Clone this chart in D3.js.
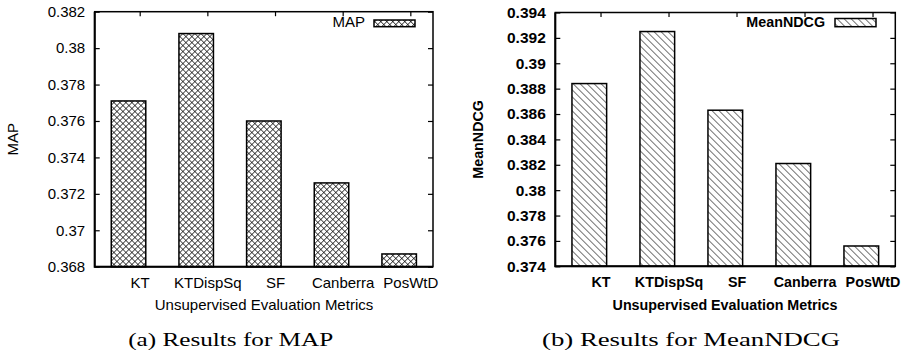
<!DOCTYPE html>
<html>
<head>
<meta charset="utf-8">
<script src="https://cdn.jsdelivr.net/npm/d3@7"></script>
<style>
  html, body { margin: 0; padding: 0; background: #fff; }
  svg { display: block; }
  .sans { font-family: "Liberation Sans", Arial, Helvetica, sans-serif; }
  .serif { font-family: "Liberation Serif", "Times New Roman", serif; }
</style>
</head>
<body>
<svg id="chart" width="902" height="352"></svg>
<script>
// Unsupervised evaluation metrics compared on two retrieval measures
const categories = ["KT", "KTDispSq", "SF", "Canberra", "PosWtD"];
const mapValues  = [0.3771, 0.3808, 0.3760, 0.3726, 0.3687];
const ndcgValues = [0.3884, 0.3925, 0.3863, 0.3821, 0.3756];
const mapTicks  = [0.368, 0.370, 0.372, 0.374, 0.376, 0.378, 0.380, 0.382];
const ndcgTicks = [0.374, 0.376, 0.378, 0.380, 0.382, 0.384, 0.386, 0.388, 0.390, 0.392, 0.394];

const svg = d3.select("#chart");
const defs = svg.append("defs");

// Fill patterns: crosshatch and backslash hatching
const cross = defs.append("pattern")
  .attr("id", "crosshatch")
  .attr("patternUnits", "userSpaceOnUse")
  .attr("width", 4.24).attr("height", 4.24)
  .attr("patternTransform", "rotate(45)");
cross.append("rect").attr("width", 4.24).attr("height", 4.24).attr("fill", "#fff");
cross.append("line").attr("x1", 0).attr("y1", 0).attr("x2", 4.24).attr("y2", 0)
  .attr("stroke", "#000").attr("stroke-width", 1.3);
cross.append("line").attr("x1", 0).attr("y1", 0).attr("x2", 0).attr("y2", 4.24)
  .attr("stroke", "#000").attr("stroke-width", 1.3);

const hatch = defs.append("pattern")
  .attr("id", "hatch")
  .attr("patternUnits", "userSpaceOnUse")
  .attr("width", 4.95).attr("height", 4.95)
  .attr("patternTransform", "rotate(45)");
hatch.append("rect").attr("width", 4.95).attr("height", 4.95).attr("fill", "#fff");
hatch.append("line").attr("x1", 0).attr("y1", 0).attr("x2", 4.95).attr("y2", 0)
  .attr("stroke", "#000").attr("stroke-width", 1.1);

const fmt = v => String(+v.toFixed(3));

// Stretch a text selection horizontally to a target width
function fitWidth(sel, width) {
  sel.attr("textLength", width).attr("lengthAdjust", "spacingAndGlyphs");
}

const panels = [
  {
    values: mapValues, ticks: mapTicks, domain: [0.368, 0.382],
    name: "MAP", fill: "url(#crosshatch)", weight: "normal", fs: 15, fsText: 15,
    left: 94.7, right: 433, top: 11.7, bottom: 266.7,
    yTitleX: 18, legendTextX: 365, legendY: 27, swatch: [374, 20, 41, 6.7],
    xTitleX: 264, captionX: 230.7, caption: "(a) Results for MAP", captionW: 205
  },
  {
    values: ndcgValues, ticks: ndcgTicks, domain: [0.374, 0.394],
    name: "MeanNDCG", fill: "url(#hatch)", weight: "bold", fs: 15.5, fsText: 14.3,
    left: 555.3, right: 895.3, top: 12.5, bottom: 266.3,
    yTitleX: 482.5, legendTextX: 825, legendY: 26.7, swatch: [835, 18.5, 41, 8.2],
    xTitleX: 725, captionX: 691, caption: "(b) Results for MeanNDCG", captionW: 298
  }
];

panels.forEach(p => {
  const g = svg.append("g");
  const x = d3.scaleLinear().domain([-0.5, categories.length - 0.5]).range([p.left, p.right]);
  const y = d3.scaleLinear().domain(p.domain).range([p.bottom, p.top]);
  const barW = 0.51;      // bar width in category units
  const tickShift = 0.165; // category labels sit right of the bar centres

  // Bars
  g.selectAll("rect.bar").data(p.values).join("rect")
    .attr("class", "bar")
    .attr("x", (d, i) => x(i - barW / 2))
    .attr("width", (d, i) => x(i + barW / 2) - x(i - barW / 2))
    .attr("y", d => y(d))
    .attr("height", d => y(p.domain[0]) - y(d))
    .attr("fill", p.fill)
    .attr("stroke", "#000")
    .attr("stroke-width", 1.5);

  // Left axis with inward ticks
  const yAxis = g.append("g").attr("transform", `translate(${p.left},0)`)
    .call(d3.axisLeft(y).tickValues(p.ticks).tickFormat(fmt).tickSize(-5).tickPadding(9.5));
  yAxis.select(".domain").remove();
  yAxis.selectAll("line").attr("stroke", "#000").attr("stroke-width", 1.2);
  yAxis.selectAll("text").attr("class", "sans").attr("font-size", p.fs)
    .attr("font-weight", p.weight).attr("fill", "#000");

  // Mirrored ticks on the right border
  const yAxisR = g.append("g").attr("transform", `translate(${p.right},0)`)
    .call(d3.axisRight(y).tickValues(p.ticks).tickFormat("").tickSize(-5));
  yAxisR.select(".domain").remove();
  yAxisR.selectAll("line").attr("stroke", "#000").attr("stroke-width", 1.2);

  // Top border ticks at the category positions
  const tickPos = categories.map((c, i) => i + tickShift);
  const xTop = g.append("g").attr("transform", `translate(0,${p.top})`)
    .call(d3.axisTop(x).tickValues(tickPos).tickFormat("").tickSize(-4.5));
  xTop.select(".domain").remove();
  xTop.selectAll("line").attr("stroke", "#000").attr("stroke-width", 1.2);

  // Category labels along the bottom
  const xBottom = g.append("g").attr("transform", `translate(0,${p.bottom})`)
    .call(d3.axisBottom(x).tickValues(tickPos).tickFormat((d, i) => categories[i])
      .tickSize(0).tickPadding(10.2));
  xBottom.select(".domain").remove();
  xBottom.selectAll("text").attr("class", "sans").attr("font-size", p.fsText)
    .attr("font-weight", p.weight).attr("fill", "#000");

  // Plot frame
  g.append("rect")
    .attr("x", p.left).attr("y", p.top)
    .attr("width", p.right - p.left).attr("height", p.bottom - p.top)
    .attr("fill", "none").attr("stroke", "#000").attr("stroke-width", 1.5);
  g.append("path")
    .attr("d", `M${p.left},${p.top} V${p.bottom} H${p.right}`)
    .attr("fill", "none").attr("stroke", "#000").attr("stroke-width", 2);

  // Legend
  g.append("text").attr("class", "sans")
    .attr("x", p.legendTextX).attr("y", p.legendY)
    .attr("text-anchor", "end").attr("font-size", p.fsText)
    .attr("font-weight", p.weight).text(p.name);
  g.append("rect")
    .attr("x", p.swatch[0]).attr("y", p.swatch[1])
    .attr("width", p.swatch[2]).attr("height", p.swatch[3])
    .attr("fill", p.fill).attr("stroke", "#000").attr("stroke-width", 1.5);

  // Axis titles
  g.append("text").attr("class", "sans")
    .attr("transform", `translate(${p.yTitleX},${(p.top + p.bottom) / 2}) rotate(-90)`)
    .attr("text-anchor", "middle").attr("font-size", p.fsText)
    .attr("font-weight", p.weight).text(p.name);
  g.append("text").attr("class", "sans")
    .attr("x", p.xTitleX).attr("y", 309.5)
    .attr("text-anchor", "middle").attr("font-size", p.fsText)
    .attr("font-weight", p.weight).text("Unsupervised Evaluation Metrics");

  // Sub-figure caption
  g.append("text").attr("class", "serif")
    .attr("x", p.captionX).attr("y", 345.5)
    .attr("text-anchor", "middle").attr("font-size", 19)
    .text(p.caption)
    .call(fitWidth, p.captionW);
});
</script>
</body>
</html>
